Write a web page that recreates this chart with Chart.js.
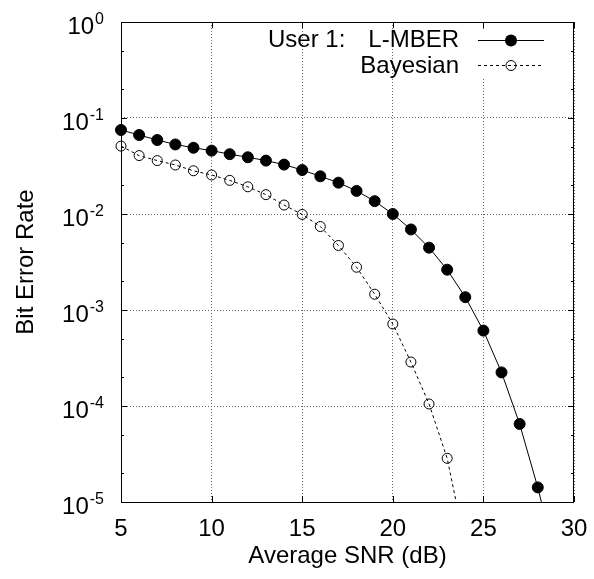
<!DOCTYPE html>
<html>
<head>
<meta charset="utf-8">
<script src="https://cdn.jsdelivr.net/npm/chart.js@4"></script>
<style>
  body { margin: 0; background: #fff; }
  #wrap { width: 594px; height: 579px; }
</style>
</head>
<body>
<div id="wrap"><canvas id="berChart" width="594" height="579"></canvas></div>
<script>
// Data
const seriesNames = ['L-MBER', 'Bayesian'];
const snrMber = [5, 6, 7, 8, 9, 10, 11, 12, 13, 14, 15, 16, 17, 18, 19, 20, 21, 22, 23, 24, 25, 26, 27, 28, 29];
const berMber = [0.075, 0.0665, 0.059, 0.053, 0.049, 0.0457, 0.042, 0.039, 0.036, 0.0327, 0.0287, 0.0247, 0.0212,
  0.0174, 0.0136, 0.0100, 0.0069, 0.00446, 0.00263, 0.00136, 0.00061, 0.000224, 0.000065, 0.0000142, 0.0000025];
const snrBayes = [5, 6, 7, 8, 9, 10, 11, 12, 13, 14, 15, 16, 17, 18, 19, 20, 21, 22, 23, 24];
const berBayes = [0.051, 0.0406, 0.036, 0.0324, 0.0282, 0.0255, 0.0224, 0.0192, 0.0159, 0.0124, 0.0099, 0.0074,
  0.0047, 0.00279, 0.00146, 0.000715, 0.000287, 0.000105, 0.0000285, 0.0000035];

// Tick labels
const xTicks = [5, 10, 15, 20, 25, 30];
const yTicks = [1, 1e-1, 1e-2, 1e-3, 1e-4, 1e-5];
const yExponents = ['0', '-1', '-2', '-3', '-4', '-5'];
const yMinorTicks = [5e-1, 2e-1, 5e-2, 2e-2, 5e-3, 2e-3, 5e-4, 2e-4, 5e-5, 2e-5];

const FONT = '"Liberation Sans", Arial, Helvetica, sans-serif';

const toPoints = (xs, ys) => xs.map((v, i) => ({ x: v, y: ys[i] }));

// Frame, ticks, labels (gnuplot look)
const framePlugin = {
  id: 'frame',
  beforeDatasetsDraw(chart) {
    const { ctx, chartArea: a, scales: { x, y } } = chart;
    ctx.save();
    ctx.strokeStyle = '#000';
    ctx.lineWidth = 1;
    ctx.strokeRect(a.left + 0.5, a.top + 0.5, a.right - a.left - 1, a.bottom - a.top);

    ctx.beginPath();
    xTicks.forEach(v => {
      const px = Math.round(x.getPixelForValue(v)) + 0.5;
      ctx.moveTo(px, a.bottom); ctx.lineTo(px, a.bottom - 6);
      ctx.moveTo(px, a.top); ctx.lineTo(px, a.top + 6);
    });
    yTicks.forEach(v => {
      const py = Math.round(y.getPixelForValue(v)) + 0.5;
      ctx.moveTo(a.left, py); ctx.lineTo(a.left + 6, py);
      ctx.moveTo(a.right, py); ctx.lineTo(a.right - 6, py);
    });
    yMinorTicks.forEach(v => {
      const py = Math.round(y.getPixelForValue(v)) + 0.5;
      ctx.moveTo(a.left, py); ctx.lineTo(a.left + 3, py);
      ctx.moveTo(a.right, py); ctx.lineTo(a.right - 3, py);
    });
    ctx.stroke();

    ctx.fillStyle = '#000';
    // x tick labels
    ctx.font = '24px ' + FONT;
    ctx.textAlign = 'center';
    ctx.textBaseline = 'alphabetic';
    xTicks.forEach(v => ctx.fillText(String(v), x.getPixelForValue(v), a.bottom + 34));

    // y tick labels 10^n
    ctx.textAlign = 'left';
    yTicks.forEach((v, i) => {
      const py = y.getPixelForValue(v);
      ctx.font = '16px ' + FONT;
      const ew = ctx.measureText(yExponents[i]).width;
      ctx.font = '24px ' + FONT;
      const bw = ctx.measureText('10').width;
      const right = 104;
      ctx.fillText('10', right - ew - bw - 1, py + 12);
      ctx.font = '16px ' + FONT;
      ctx.fillText(yExponents[i], right - ew, py + 2);
    });

    // axis titles
    ctx.font = '24px ' + FONT;
    ctx.textAlign = 'center';
    ctx.fillText('Average SNR (dB)', (a.left + a.right) / 2, 563);
    ctx.save();
    ctx.translate(33, (a.top + a.bottom) / 2);
    ctx.rotate(-Math.PI / 2);
    ctx.fillText('Bit Error Rate', 0, 0);
    ctx.restore();
    ctx.restore();
  },
  afterDatasetsDraw(chart) {
    const { ctx } = chart;
    const ds = chart.data.datasets;
    ctx.save();
    ctx.fillStyle = '#fff';
    ctx.fillRect(472, 29, 76, 50);

    ctx.fillStyle = '#000';
    ctx.font = '24px ' + FONT;
    ctx.textBaseline = 'alphabetic';
    ctx.textAlign = 'left';
    ctx.fillText('User 1:', 268, 47);
    ctx.textAlign = 'right';
    ctx.fillText(ds[0].label, 459, 47);
    ctx.fillText(ds[1].label, 459, 73);

    // samples
    ctx.strokeStyle = '#000';
    ctx.lineWidth = 1;
    ctx.beginPath();
    ctx.moveTo(478, 40.5); ctx.lineTo(544, 40.5);
    ctx.stroke();
    ctx.beginPath();
    ctx.arc(511, 40.5, 6, 0, Math.PI * 2);
    ctx.fill();

    ctx.setLineDash(ds[1].borderDash);
    ctx.beginPath();
    ctx.moveTo(478, 65.5); ctx.lineTo(544, 65.5);
    ctx.stroke();
    ctx.setLineDash([]);
    ctx.beginPath();
    ctx.arc(511, 65.5, 5, 0, Math.PI * 2);
    ctx.stroke();
    ctx.restore();
  }
};

new Chart(document.getElementById('berChart'), {
  type: 'line',
  data: {
    datasets: [{
      label: seriesNames[0],
      data: toPoints(snrMber, berMber),
      borderColor: '#000',
      borderWidth: 1,
      pointRadius: 5.5,
      pointBackgroundColor: '#000',
      pointBorderColor: '#000',
      pointBorderWidth: 1,
      clip: { left: 10, right: 10, top: 10, bottom: 0 }
    }, {
      label: seriesNames[1],
      data: toPoints(snrBayes, berBayes),
      borderColor: '#000',
      borderWidth: 1,
      borderDash: [3, 3],
      pointRadius: 5,
      pointBackgroundColor: 'rgba(0,0,0,0)',
      pointBorderColor: '#000',
      pointBorderWidth: 1,
      clip: { left: 10, right: 10, top: 10, bottom: 0 }
    }]
  },
  options: {
    responsive: false,
    animation: false,
    layout: { padding: { left: 121, top: 22, right: 20, bottom: 77 } },
    plugins: { legend: { display: false }, tooltip: { enabled: false } },
    scales: {
      x: {
        type: 'linear',
        min: 5,
        max: 30,
        ticks: { display: false, stepSize: 5 },
        grid: { color: '#666', lineWidth: 1, drawTicks: false },
        border: { display: false, dash: [1, 2] }
      },
      y: {
        type: 'logarithmic',
        min: 1e-5,
        max: 1,
        afterBuildTicks: scale => { scale.ticks = yTicks.map(v => ({ value: v })); },
        ticks: { display: false },
        grid: { color: '#666', lineWidth: 1, drawTicks: false },
        border: { display: false, dash: [1, 2] }
      }
    }
  },
  plugins: [framePlugin]
});
</script>
</body>
</html>
